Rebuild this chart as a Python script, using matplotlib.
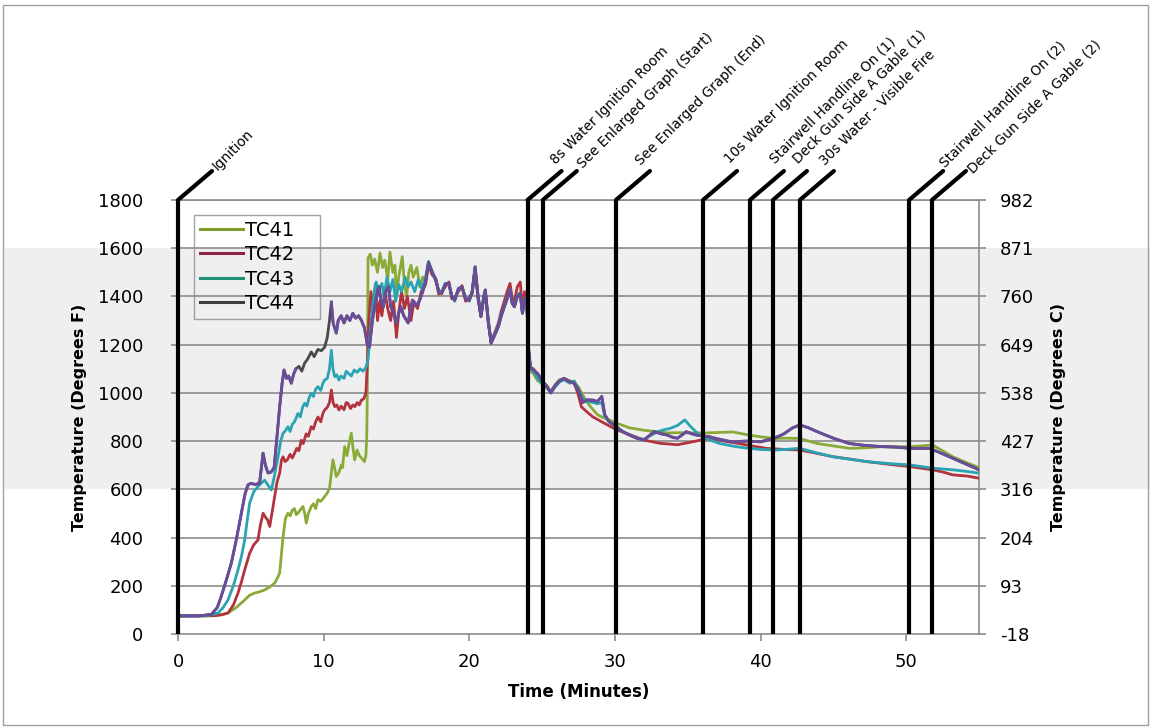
import numpy as np
import matplotlib
matplotlib.use("Agg")
import matplotlib.pyplot as plt
from matplotlib.patches import Rectangle
from matplotlib.lines import Line2D
import matplotlib.transforms as mtransforms

plt.rcParams['font.family'] = ['DejaVu Sans']

# ---------------- data ----------------
tc41_t = [0, 1, 2, 2.5, 3.0, 3.43, 4.0, 4.58, 4.9, 5.27, 5.6, 5.95, 6.3, 6.64, 6.85, 6.98, 7.1, 7.21, 7.38,
          7.55, 7.7, 7.85, 8.0, 8.12, 8.24, 8.4, 8.58, 8.7, 8.81, 8.95, 9.15, 9.3, 9.45, 9.61, 9.8, 10.07,
          10.25, 10.41, 10.55, 10.64, 10.75, 10.87, 11.05, 11.21, 11.3, 11.44, 11.6, 11.75, 11.9, 12.0,
          12.13, 12.3, 12.45, 12.6, 12.8, 12.9, 12.96, 13.0, 13.05, 13.2, 13.35, 13.5, 13.7, 13.87, 14.05,
          14.2, 14.4, 14.55, 14.75, 14.9, 15.0, 15.15, 15.4, 15.55, 15.7, 15.85, 16.0, 16.15, 16.4, 16.6,
          16.8, 17.0,
          17.2, 17.45, 17.7, 17.9, 18.1, 18.35, 18.6, 18.8, 19.0, 19.25, 19.5, 19.75, 20.0, 20.2, 20.4,
          20.6, 20.8, 21.0, 21.1, 21.3, 21.5, 21.75, 22.0, 22.2, 22.4, 22.6, 22.8, 22.95, 23.1, 23.3, 23.5,
          23.65, 23.8, 23.95, 24.05, 24.2,
          24.4, 24.7, 25.0, 25.3, 25.6, 25.9, 26.2, 26.5, 26.9, 27.2, 27.5, 27.8, 28.1, 28.5, 28.8, 29.1,
          29.6, 30.1, 31.0, 32.0, 33.0, 33.6, 34.5, 35.5, 36.3, 37.2, 38.1, 39.2, 40.0, 40.9, 41.8, 42.7,
          43.3, 43.9, 45.0, 46.1, 47.2, 48.4, 49.3, 50.3, 51.0, 51.8, 52.5, 53.2, 54.1, 55.0]
tc41_f = [75, 75, 75, 76, 80, 87, 110, 141, 160, 170, 175, 183, 195, 211, 235, 253, 330, 402, 480,
          501, 490, 514, 520, 495, 501, 515, 529, 500, 460, 500, 529, 540, 520, 557, 550, 570,
          585, 605, 680, 722, 690, 653, 670, 701, 690, 777, 740, 790, 833, 780,
          722, 763, 740, 730, 715, 740, 819, 1000, 1560, 1575, 1530, 1555, 1500, 1580, 1520,
          1550, 1470, 1584, 1500, 1530, 1400, 1480, 1565, 1450, 1400, 1500, 1530, 1480, 1520, 1440,
          1480, 1470,
          1545, 1500, 1465, 1425, 1410, 1445, 1455, 1400, 1388, 1428, 1440, 1392, 1383, 1420, 1520,
          1402, 1318, 1398, 1425, 1302, 1208, 1242, 1278, 1322, 1355, 1392, 1425, 1372, 1360, 1402, 1410,
          1332, 1385, 1388, 1190, 1090,
          1080, 1050, 1040, 1020, 1005, 1035, 1055, 1058, 1050, 1045, 1025, 990, 960, 930, 910, 900,
          888, 875, 855, 845, 838, 834, 835, 834, 834, 836, 838, 825, 818, 811, 812, 811,
          800, 790, 780, 770, 772, 777, 777, 777, 780, 784, 760, 735, 712, 690]

tc42_t = [0, 2.5, 3.0, 3.43, 3.8, 4.12, 4.35, 4.58, 4.75, 4.92, 5.2, 5.49, 5.65, 5.84, 6.0, 6.15, 6.3, 6.5,
          6.64, 6.8, 6.98, 7.1, 7.21, 7.35, 7.5, 7.7, 7.85, 8.0, 8.15, 8.3, 8.47, 8.6, 8.8, 8.95, 9.15,
          9.3, 9.45, 9.61, 9.8, 9.95, 10.07, 10.25, 10.4, 10.53, 10.65, 10.76, 10.9, 11.05, 11.2, 11.4,
          11.55, 11.67, 11.85, 12.0, 12.15, 12.3, 12.45, 12.59, 12.75, 12.9, 13.0, 13.1, 13.25, 13.4,
          13.55, 13.7, 13.85, 14.0, 14.2, 14.4, 14.6, 14.8, 15.0, 15.15, 15.35, 15.55, 15.75, 16.0, 16.2,
          16.45, 16.7, 17.0,
          17.2, 17.45, 17.7, 17.9, 18.1, 18.35, 18.6, 18.8, 19.0, 19.25, 19.5, 19.75, 20.0, 20.2, 20.4,
          20.6, 20.8, 21.0, 21.1, 21.3, 21.5, 21.75, 22.0, 22.2, 22.4, 22.6, 22.8, 22.95, 23.1, 23.3, 23.5,
          23.65, 23.8, 23.95, 24.05, 24.2,
          24.4, 24.7, 25.0, 25.3, 25.6, 25.9, 26.2, 26.5, 26.9, 27.2, 27.45, 27.7, 28.1, 28.5, 29.1,
          29.7, 30.2, 30.8, 31.4, 32.0, 32.6, 33.1, 33.7, 34.3, 34.9, 35.4, 36.0, 36.5, 37.5, 38.5,
          39.4, 40.4, 41.5, 42.7, 43.8, 45.0, 46.2, 47.3, 48.8, 50.3, 51.8, 52.5, 53.2, 54.2, 55.0]
tc42_f = [75, 76, 80, 87, 120, 170, 215, 266, 300, 335, 370, 390, 450, 501, 485, 473, 446, 520,
          570, 630, 667, 720, 735, 715, 722, 745, 730, 749, 770, 760, 804, 790, 830, 820, 860,
          850, 880, 900, 880, 915, 929, 940, 960, 1012, 960, 943, 950, 929, 945, 930,
          960, 957, 935, 950, 943, 960, 950, 970, 975, 998, 1124, 1300, 1420, 1350,
          1450, 1300, 1380, 1320, 1420, 1350, 1300, 1380, 1230, 1330, 1420, 1350, 1400, 1300, 1380,
          1350, 1420, 1450,
          1530, 1490, 1475, 1410, 1420, 1440, 1460, 1390, 1395, 1420, 1445, 1380, 1395, 1410, 1510,
          1390, 1320, 1395, 1420, 1290, 1210, 1250, 1290, 1340, 1380, 1420, 1454, 1390, 1380, 1440, 1460,
          1350, 1420, 1400, 1180, 1100,
          1100, 1075, 1045, 1030, 1005, 1030, 1050, 1060, 1048, 1040, 1000, 942, 920, 900, 880,
          860, 845, 832, 818, 804, 797, 791, 788, 785, 792, 798, 806, 812, 800, 790,
          780, 770, 766, 763, 750, 735, 725, 715, 704, 694, 681, 672, 660, 655, 646]

tc43_t = [0, 2.0, 2.75, 3.1, 3.43, 3.8, 4.12, 4.35, 4.58, 4.75, 4.92, 5.2, 5.49, 5.7, 5.95, 6.15, 6.41,
          6.6, 6.87, 7.05, 7.21, 7.4, 7.55, 7.7, 7.85, 8.0, 8.24, 8.4, 8.55, 8.7, 8.85, 9.0, 9.15, 9.3,
          9.45, 9.61, 9.8, 9.95, 10.07, 10.25, 10.4, 10.53, 10.64, 10.76, 10.9, 11.05, 11.2, 11.4, 11.55,
          11.7, 11.9, 12.1, 12.3, 12.5, 12.7, 12.9, 13.05, 13.2, 13.4, 13.6, 13.8, 14.0, 14.15, 14.35,
          14.55, 14.75, 14.95, 15.15, 15.35, 15.6, 15.8, 16.0, 16.25, 16.5, 16.75, 17.0,
          17.2, 17.45, 17.7, 17.9, 18.1, 18.35, 18.6, 18.8, 19.0, 19.25, 19.5, 19.75, 20.0, 20.2, 20.4,
          20.6, 20.8, 21.0, 21.1, 21.3, 21.5, 21.75, 22.0, 22.2, 22.4, 22.6, 22.8, 22.95, 23.1, 23.3, 23.5,
          23.65, 23.8, 23.95, 24.05, 24.2,
          24.4, 24.7, 25.0, 25.3, 25.6, 25.9, 26.2, 26.5, 26.9, 27.2, 27.5, 27.8, 28.1, 28.5, 28.8, 29.1,
          29.3, 29.6, 30.1, 30.5, 31.0, 31.5, 32.0, 32.5, 33.0, 33.3, 33.8, 34.3, 34.8, 35.2, 35.8,
          36.5, 37.2, 38.2, 39.2, 40.1, 41.1, 42.0, 42.7, 43.8, 45.0, 46.2, 47.3, 48.8, 50.3, 51.8,
          53.2, 54.2, 55.0]
tc43_f = [75, 76, 87, 110, 141, 200, 266, 320, 390, 470, 543, 590, 611, 625, 638, 620, 597,
          650, 735, 800, 832, 845, 860, 840, 870, 880, 915, 900, 940, 957, 945, 980, 998, 985,
          1015, 1026, 1010, 1040, 1053, 1060, 1100, 1177, 1100, 1067, 1075, 1053, 1070, 1060, 1090,
          1081, 1070, 1095, 1085, 1100, 1090, 1105, 1136, 1250, 1380, 1460, 1427, 1454, 1400, 1480,
          1420, 1470, 1380, 1450, 1420, 1480, 1440, 1460, 1420, 1470, 1430, 1480,
          1545, 1505, 1470, 1425, 1418, 1455, 1450, 1405, 1380, 1435, 1435, 1395, 1380, 1425, 1515,
          1405, 1320, 1405, 1420, 1305, 1210, 1245, 1280, 1325, 1360, 1395, 1430, 1375, 1360, 1405, 1415,
          1335, 1390, 1385, 1195, 1100,
          1090, 1060, 1035, 1025, 1000, 1025, 1045, 1055, 1040, 1050, 1015, 975, 965, 960, 955, 960,
          905, 880, 860, 842, 826, 812, 808, 825, 840, 846, 853, 865, 888, 860, 825,
          805, 790, 778, 770, 765, 763, 767, 770, 752, 735, 724, 715, 707, 701, 688,
          681, 674, 667]

tc44_t = [0, 1.5, 2.3, 2.7, 2.95, 3.3, 3.66, 4.0, 4.35, 4.6, 4.8, 5.0, 5.3, 5.6, 5.84, 6.0, 6.18, 6.4,
          6.6, 6.8, 6.98, 7.15, 7.28, 7.45, 7.6, 7.78, 7.95, 8.1, 8.3, 8.5, 8.7, 8.9, 9.15, 9.35, 9.6,
          9.85, 10.07, 10.25, 10.4, 10.53, 10.65, 10.87, 11.0, 11.2, 11.4, 11.6, 11.8, 12.0, 12.2, 12.4,
          12.6, 12.8, 13.0, 13.15, 13.35, 13.5, 13.65, 13.8, 13.95, 14.1, 14.25, 14.45, 14.6, 14.8, 15.0,
          15.15, 15.3, 15.5, 15.8, 15.95, 16.1, 16.35, 16.6, 16.8, 17.0,
          17.2, 17.45, 17.7, 17.9, 18.1, 18.35, 18.6, 18.8, 19.0, 19.25, 19.5, 19.75, 20.0, 20.2, 20.4,
          20.6, 20.8, 21.0, 21.1, 21.3, 21.5, 21.75, 22.0, 22.2, 22.4, 22.6, 22.8, 22.95, 23.1, 23.3, 23.5,
          23.65, 23.8, 23.95, 24.05, 24.2,
          24.4, 24.7, 25.0, 25.3, 25.6, 25.9, 26.2, 26.5, 26.9, 27.2, 27.5, 27.8, 28.1, 28.5, 28.8, 29.1,
          29.3, 29.6, 30.1, 30.5, 31.0, 31.5, 32.0, 32.3, 32.7, 33.2, 33.6, 34.0, 34.3, 34.6, 34.9, 35.3,
          35.6, 36.0, 36.5, 37.0, 38.0, 39.0, 40.0, 40.9, 41.6, 42.2, 42.7, 43.3, 43.9, 45.0, 46.1, 47.2,
          48.4, 49.3, 50.3, 51.0, 51.6, 52.4, 53.2, 54.1, 55.0]
tc44_f = [75, 75, 82, 110, 153, 220, 294, 390, 502, 580, 618, 625, 620, 625, 750, 700, 668, 672,
          690, 820, 942, 1040, 1095, 1060, 1070, 1040, 1080, 1100, 1110, 1090, 1124, 1140, 1170, 1150, 1180,
          1175, 1190, 1230, 1300, 1377, 1290, 1248, 1300, 1320, 1290, 1320, 1300, 1330, 1310, 1320,
          1300, 1270, 1200, 1190, 1300, 1357, 1400, 1440, 1380, 1357, 1420, 1440, 1360, 1330, 1290,
          1330, 1357, 1320, 1290, 1340, 1385, 1360, 1385, 1420, 1460,
          1540, 1500, 1468, 1420, 1413, 1450, 1454, 1400, 1385, 1430, 1440, 1390, 1385, 1420, 1523,
          1400, 1316, 1400, 1427, 1300, 1206, 1240, 1275, 1320, 1357, 1390, 1427, 1370, 1357, 1400, 1413,
          1330, 1385, 1390, 1200, 1108,
          1095, 1080, 1050, 1030, 1000, 1030, 1050, 1060, 1046, 1040, 1010, 960, 971, 970, 964, 985,
          910, 880, 860, 840, 825, 812, 804, 820, 839, 830, 825, 815, 812, 825, 839, 830,
          825, 822, 818, 810, 797, 800, 797, 811, 830, 855, 867, 855, 839, 812, 790, 782,
          777, 775, 770, 770, 770, 750, 729, 705, 681]

# purple trace: follows TC44 but has no data between 8.2 and 10.5 min
purple_gap = (8.2, 10.5)

series_names = ['TC41', 'TC42', 'TC43', 'TC44']
series_colors = ['#8aaa38', '#b2323e', '#2aa3b3', '#4a4a4a']
legend_colors = ['#7f9f2a', '#8e2346', '#1f8f78', '#3c3c3c']
purple_color = '#6a4c9c'

event_times = [0, 24.0, 25.05, 30.07, 36.05, 39.27, 40.85, 42.7, 50.2, 51.77]
event_labels = ['Ignition', '8s Water Ignition Room', 'See Enlarged Graph (Start)',
                'See Enlarged Graph (End)', '10s Water Ignition Room', 'Stairwell Handline On (1)',
                'Deck Gun Side A Gable (1)', '30s Water - Visible Fire',
                'Stairwell Handline On (2)', 'Deck Gun Side A Gable (2)']

yticks_f = [0, 200, 400, 600, 800, 1000, 1200, 1400, 1600, 1800]
yticks_c = ['-18', '93', '204', '316', '427', '538', '649', '760', '871', '982']
xticks = [0, 10, 20, 30, 40, 50]

# ---------------- figure ----------------
W, H = 1151, 727
fig = plt.figure(figsize=(W / 100, H / 100), dpi=100)
fig.patch.set_facecolor('white')
ax = fig.add_axes([178 / W, 1 - 634 / H, (979 - 178) / W, (634 - 200) / H])
ax.set_facecolor('none')
ax.set_xlim(0, 55)
ax.set_ylim(0, 1800)

# grey band across whole figure (600..1600 F)
btr = mtransforms.blended_transform_factory(fig.transFigure, ax.transData)
band = Rectangle((5 / W, 600), (1150 - 5) / W, 1000, transform=btr, facecolor='#efefef',
                 edgecolor='none', zorder=-5)
fig.patches.append(band)
border = Rectangle((3 / W, 2 / H), (W - 6) / W, (H - 7) / H, transform=fig.transFigure,
                   fill=False, edgecolor='#a0a0a0', lw=1.0, zorder=-4)
fig.patches.append(border)

grid_c = '#8c8c8c'
for yv in yticks_f[1:]:
    ax.axhline(yv, color=grid_c, lw=1.2, zorder=1)

for sp in ['top', 'right', 'bottom', 'left']:
    ax.spines[sp].set_color(grid_c)
    ax.spines[sp].set_linewidth(1.2)

lw = 2.0
t44 = np.array(tc44_t)
f44 = np.array(tc44_f, dtype=float)
purple_f = np.where((t44 > purple_gap[0]) & (t44 < purple_gap[1]), np.nan, f44)

data = [(tc41_t, tc41_f), (tc42_t, tc42_f), (tc43_t, tc43_f), (tc44_t, tc44_f)]
for (tt, ff), c in zip(data, series_colors):
    ax.plot(tt, ff, color=c, lw=lw, zorder=3)
ax.plot(t44, purple_f, color=purple_color, lw=lw, zorder=3.5)

# legend using legend colours
handles = [Line2D([0], [0], color=c, lw=2.2) for c in legend_colors]
leg_box = (16 / 801, 1 - 15 / 434 - 105 / 434, 126 / 801, 105 / 434)
leg = ax.legend(handles, series_names, loc='upper left', bbox_to_anchor=leg_box, mode='expand',
                frameon=True, fancybox=False, edgecolor='#8c8c8c', fontsize=14,
                handlelength=2.2, handletextpad=0.1, labelspacing=0.28, borderpad=0.3,
                borderaxespad=0)
leg.get_frame().set_linewidth(1.0)
leg.get_frame().set_facecolor('none')
leg.set_zorder(6)

# event lines and their labels (label offsets in pixels from the top of each line)
label_offsets = [(42, 30), (30, 36), (42, 32), (27, 35), (29, 37), (27, 37), (27, 37),
                 (27, 35), (38, 33), (43, 27)]
for t, lab, off in zip(event_times, event_labels, label_offsets):
    ax.plot([t, t], [0, 1800], color='black', lw=3.0, zorder=5, clip_on=False,
            solid_capstyle='butt')
    ax.annotate('', xy=(t, 1800), xytext=(34, 29), textcoords='offset pixels',
                arrowprops=dict(arrowstyle='-', lw=3.0, color='black', shrinkA=0, shrinkB=0),
                annotation_clip=False)
    ax.annotate(lab, xy=(t, 1800), xytext=(off[0] - 2, off[1] - 1), textcoords='offset pixels',
                rotation=45, rotation_mode='anchor', ha='left', va='baseline',
                fontsize=9.8, color='black', annotation_clip=False)

# ticks
ax.set_xticks(xticks)
ax.set_xticklabels([str(x) for x in xticks])
ax.set_yticks(yticks_f)
ax.set_yticklabels([str(y) for y in yticks_f])
ax.tick_params(axis='x', direction='out', length=5, width=1.2, color=grid_c, labelsize=13, pad=9)
ax.tick_params(axis='y', direction='out', length=5, width=1.2, color=grid_c, labelsize=13, pad=20)

ax2 = ax.twinx()
ax2.set_ylim(0, 1800)
ax2.set_yticks(yticks_f)
ax2.set_yticklabels(yticks_c)
ax2.tick_params(axis='y', direction='out', length=5, width=1.2, color=grid_c, labelsize=13, pad=10)
for sp in ax2.spines.values():
    sp.set_visible(False)

ax.set_xlabel('Time (Minutes)', fontsize=12, fontweight='bold', labelpad=8)
ax.set_ylabel('Temperature (Degrees F)', fontsize=11.5, fontweight='bold', labelpad=8)
ax2.set_ylabel('Temperature (Degrees C)', fontsize=11.5, fontweight='bold', labelpad=12)

fig.savefig('out.png', dpi=100)
